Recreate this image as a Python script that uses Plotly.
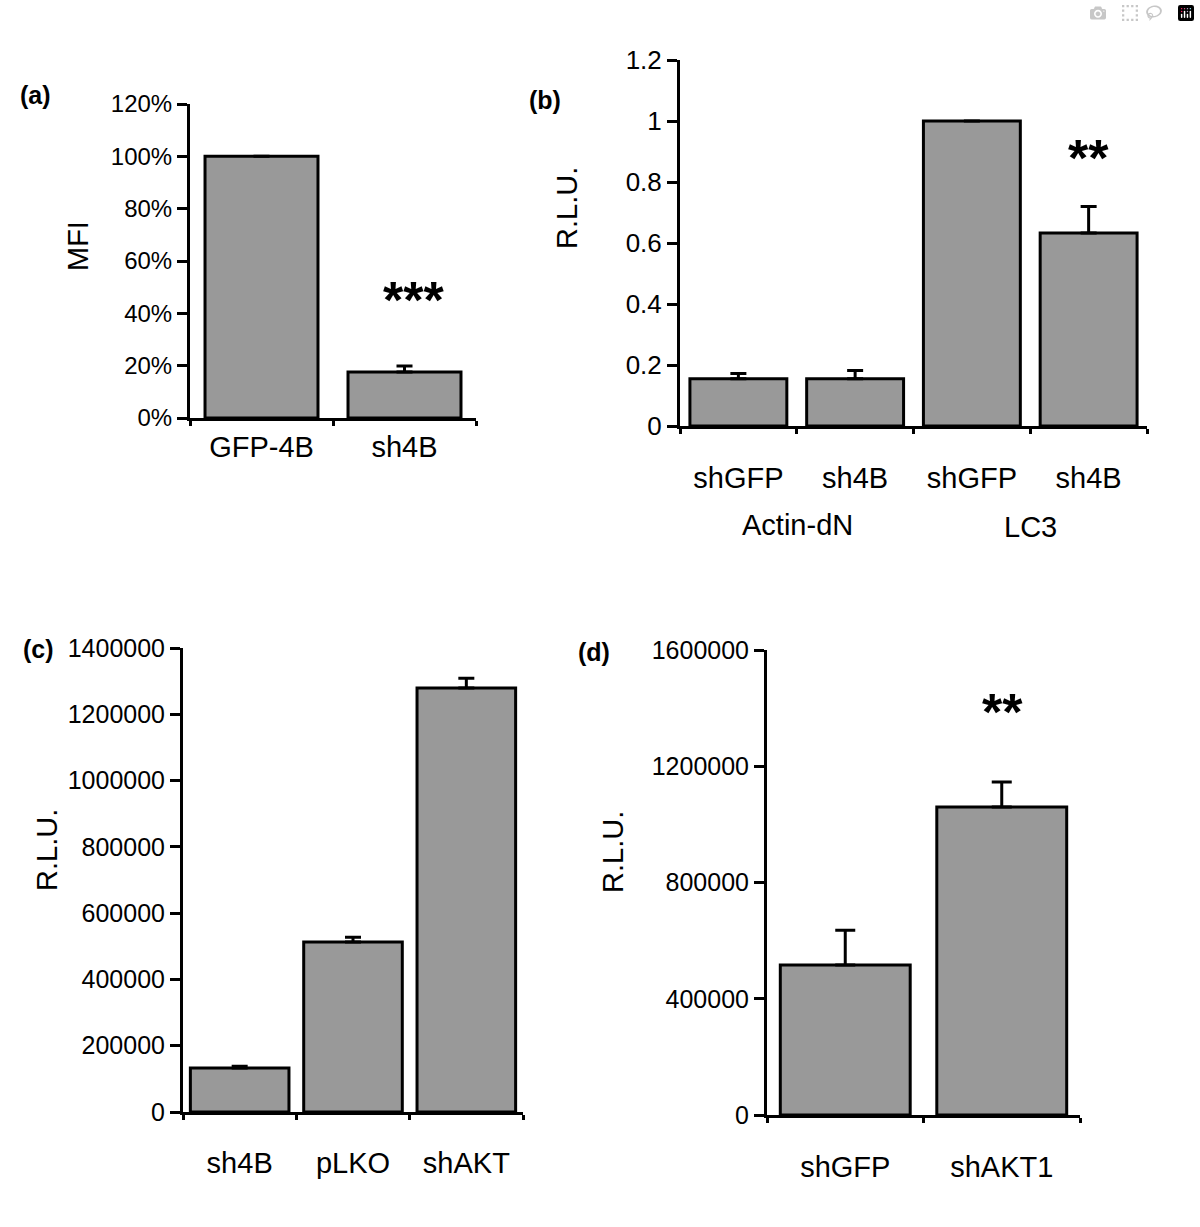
import plotly.graph_objects as go

W, H = 1200, 1227

# ---------------- data ----------------
# Panel (a)
a_cats = ["GFP-4B", "sh4B"]
a_vals = [1.00, 0.176]
a_err = [0.0, 0.023]
a_ticks = [0, 0.2, 0.4, 0.6, 0.8, 1.0, 1.2]

# Panel (b)
b_groups = ["Actin-dN", "Actin-dN", "LC3", "LC3"]
b_labels = ["shGFP", "sh4B", "shGFP", "sh4B"]
b_vals = [0.155, 0.155, 1.00, 0.633]
b_err = [0.017, 0.027, 0.0, 0.087]
b_ticks = [0, 0.2, 0.4, 0.6, 0.8, 1.0, 1.2]

# Panel (c)
c_cats = ["sh4B", "pLKO", "shAKT"]
c_vals = [133000, 513000, 1279000]
c_err = [5000, 14000, 30000]
c_ticks = [0, 200000, 400000, 600000, 800000, 1000000, 1200000, 1400000]

# Panel (d)
d_cats = ["shGFP", "shAKT1"]
d_vals = [516000, 1060000]
d_err = [120000, 86000]
d_ticks = [0, 400000, 800000, 1200000, 1600000]

# ---------------- style ----------------
FONT = "Arial, 'Liberation Sans', Helvetica, sans-serif"
BAR_COLOR = "#999999"
LW = 3

def px_x(p):
    return p / W

def px_y(p):
    return 1 - p / H

fig = go.Figure()

b_ids = [g + "|" + l for g, l in zip(b_groups, b_labels)]

panels = [
    ("a", a_cats, a_vals, a_err, "x", 0.79, 8),
    ("b", b_ids, b_vals, b_err, "x2", 0.83, 8),
    ("c", c_cats, c_vals, c_err, "x3", 0.87, 8),
    ("d", d_cats, d_vals, d_err, "x4", 0.83, 10),
]

for name, cats, vals, err, xa, bw, cap in panels:
    ya = xa.replace("x", "y")
    fig.add_trace(go.Bar(
        x=cats, y=vals, width=bw,
        marker=dict(color=BAR_COLOR, line=dict(color="black", width=LW)),
        error_y=dict(type="data", symmetric=False, array=err,
                     arrayminus=[0] * len(err), color="black",
                     thickness=LW, width=cap),
        xaxis=xa, yaxis=ya, showlegend=False, hoverinfo="skip",
    ))

# pixel geometry of each plot area: (left, right, top, bottom)
geo = {
    "a": (190, 476, 104, 418),
    "b": (680, 1147, 60, 426),
    "c": (183, 523, 648, 1112),
    "d": (767, 1080, 650, 1115),
}

def xaxis_cfg(g, fontsize, standoff, **kw):
    l, r, t, b = g
    cfg = dict(
        domain=[px_x(l), px_x(r)], type="category", automargin=False,
        showline=True, linecolor="black", linewidth=LW,
        ticks="outside", ticklen=5, tickwidth=LW, tickcolor="black",
        tickson="boundaries", showgrid=False, zeroline=False,
        tickfont=dict(family=FONT, size=fontsize, color="black"),
        ticklabelstandoff=standoff, fixedrange=True,
    )
    cfg.update(kw)
    return cfg

def yaxis_cfg(g, ticks, fontsize, **kw):
    l, r, t, b = g
    cfg = dict(
        domain=[px_y(b), px_y(t)], range=[0, ticks[-1]], automargin=False,
        tickmode="array", tickvals=ticks,
        showline=True, linecolor="black", linewidth=LW,
        ticks="outside", ticklen=10, tickwidth=LW, tickcolor="black",
        showgrid=False, zeroline=False,
        tickfont=dict(family=FONT, size=fontsize, color="black"),
        fixedrange=True,
    )
    cfg.update(kw)
    return cfg

fig.update_layout(
    template="none",
    width=W, height=H, margin=dict(l=0, r=0, t=0, b=0, pad=0),
    paper_bgcolor="white", plot_bgcolor="white",
    bargap=0.15,
    xaxis=xaxis_cfg(geo["a"], 29, 1, anchor="y"),
    yaxis=yaxis_cfg(geo["a"], a_ticks, 24, anchor="x", tickformat=".0%"),
    xaxis2=xaxis_cfg(geo["b"], 29, 24, anchor="y2", tickmode="array",
                     tickvals=b_ids, ticktext=b_labels),
    yaxis2=yaxis_cfg(geo["b"], b_ticks, 26, anchor="x2",
                     ticktext=["0", "0.2", "0.4", "0.6", "0.8", "1", "1.2"]),
    xaxis3=xaxis_cfg(geo["c"], 29, 23, anchor="y3"),
    yaxis3=yaxis_cfg(geo["c"], c_ticks, 25, anchor="x3",
                     ticktext=[str(v) for v in c_ticks]),
    xaxis4=xaxis_cfg(geo["d"], 29, 24, anchor="y4"),
    yaxis4=yaxis_cfg(geo["d"], d_ticks, 25, anchor="x4",
                     ticktext=[str(v) for v in d_ticks]),
)

ann = []

def text(x, y, s, size, bold=False, angle=0):
    ann.append(dict(
        x=px_x(x), y=px_y(y), xref="paper", yref="paper",
        text=("<b>%s</b>" % s) if bold else s, showarrow=False,
        textangle=angle, xanchor="center", yanchor="middle",
        font=dict(family=FONT, size=size, color="black"),
    ))

# panel letters
text(35, 95, "(a)", 25, bold=True)
text(545, 100, "(b)", 25, bold=True)
text(38, 649, "(c)", 25, bold=True)
text(594, 652, "(d)", 25, bold=True)

# y-axis titles
text(78, 246, "MFI", 29, angle=-90)
text(567, 208, "R.L.U.", 29, angle=-90)
text(47, 850, "R.L.U.", 29, angle=-90)
text(613, 852, "R.L.U.", 29, angle=-90)

# group labels (b)
text(797, 525, "Actin-dN", 29)
text(1030, 527, "LC3", 29)

# significance stars
text(414, 300, "***", 52, bold=True)
text(1088, 158, "**", 52, bold=True)
text(1002, 712, "**", 52, bold=True)

fig.update_layout(annotations=ann)

fig.write_html("out.html", post_script="document.body.style.margin='0';")
